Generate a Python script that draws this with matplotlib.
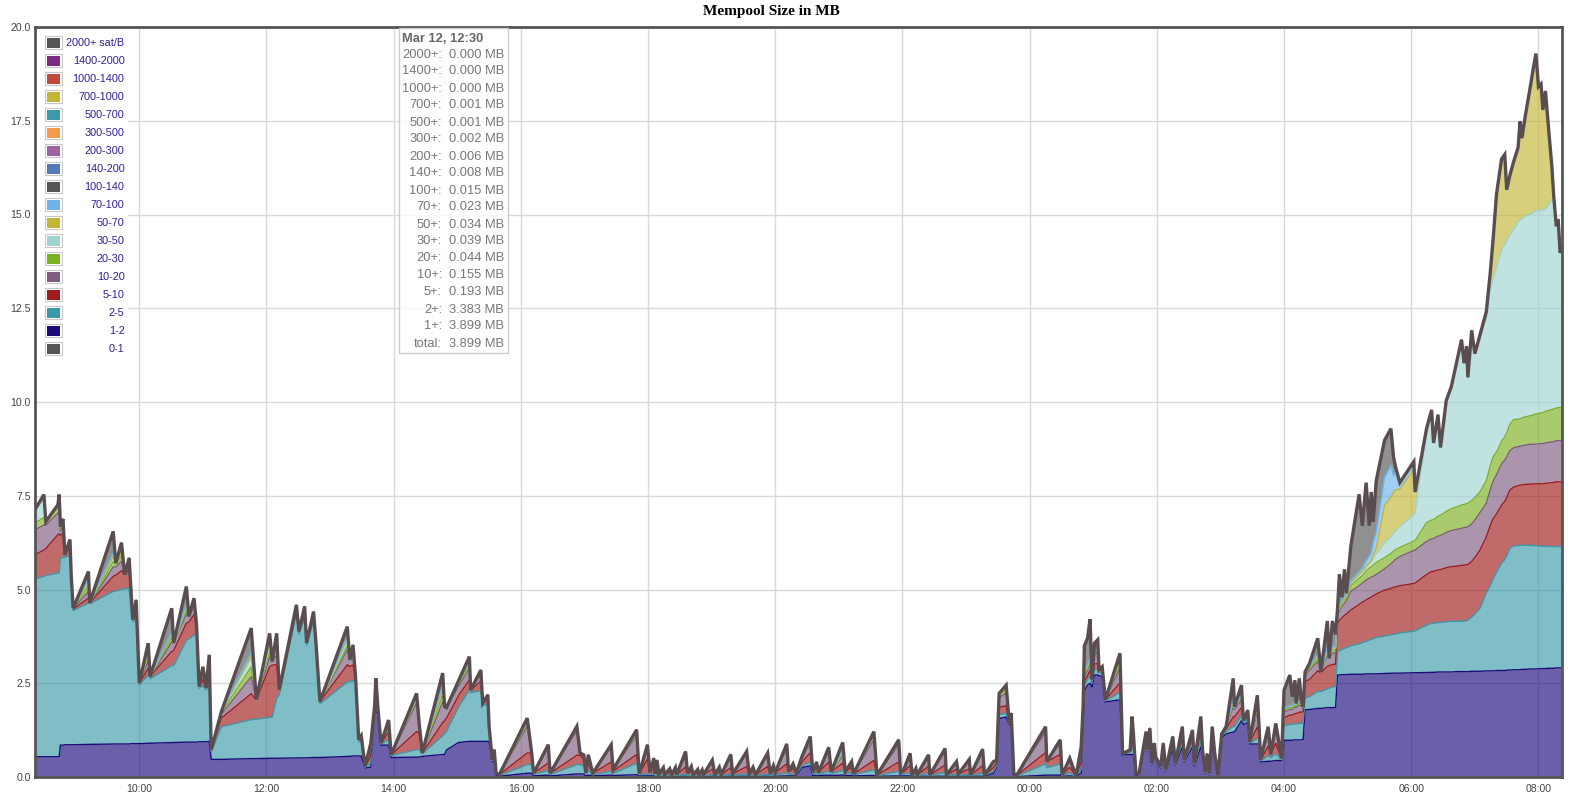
import numpy as np
import matplotlib
matplotlib.use("Agg")
import matplotlib.pyplot as plt
from matplotlib.patches import Rectangle

# ---------------- data (hours since 00:00 of the first day) ----------------
hours = [
8.36, 8.50, 8.53, 8.72, 8.74, 8.76, 8.80, 8.83, 8.91, 8.93,
8.96, 9.20, 9.22, 9.59, 9.63, 9.72, 9.77, 9.84, 9.88, 9.90,
9.95, 9.97, 10.00, 10.14, 10.17, 10.51, 10.54, 10.74, 10.78, 10.86,
10.90, 10.94, 11.00, 11.05, 11.10, 11.13, 11.29, 11.76, 11.84, 12.05,
12.09, 12.16, 12.20, 12.47, 12.51, 12.60, 12.63, 12.74, 12.78, 12.84,
13.27, 13.31, 13.36, 13.40, 13.45, 13.49, 13.55, 13.64, 13.70, 13.72,
13.75, 13.80, 13.92, 13.96, 14.36, 14.40, 14.45, 14.77, 14.80, 14.83,
15.02, 15.19, 15.21, 15.37, 15.40, 15.48, 15.50, 15.55, 15.58, 15.61,
15.66, 16.10, 16.17, 16.20, 16.43, 16.46, 16.88, 16.93, 16.99, 17.02,
17.06, 17.13, 17.42, 17.45, 17.82, 17.86, 17.99, 18.03, 18.09, 18.11,
18.14, 18.17, 18.24, 18.26, 18.34, 18.37, 18.43, 18.45, 18.59, 18.62,
18.68, 18.71, 18.78, 18.80, 18.85, 18.87, 19.01, 19.05, 19.12, 19.15,
19.30, 19.33, 19.55, 19.59, 19.65, 19.69, 19.88, 19.92, 19.97, 20.00,
20.18, 20.21, 20.28, 20.33, 20.42, 20.55, 20.59, 20.65, 20.68, 20.84,
20.88, 21.06, 21.10, 21.20, 21.23, 21.55, 21.60, 21.94, 21.97, 22.02,
22.12, 22.15, 22.21, 22.23, 22.41, 22.43, 22.67, 22.69, 22.85, 22.88,
23.05, 23.07, 23.26, 23.29, 23.43, 23.48, 23.52, 23.63, 23.68, 23.71,
23.75, 23.79, 24.25, 24.27, 24.48, 24.51, 24.63, 24.73, 24.81, 24.84,
24.86, 24.91, 24.95, 24.98, 25.02, 25.07, 25.09, 25.14, 25.19, 25.42,
25.46, 25.58, 25.61, 25.63, 25.67, 25.72, 25.83, 25.85, 25.89, 25.92,
25.96, 25.98, 26.06, 26.10, 26.14, 26.25, 26.29, 26.40, 26.43, 26.56,
26.59, 26.69, 26.72, 26.76, 26.79, 26.83, 26.87, 26.91, 26.96, 27.02,
27.09, 27.20, 27.22, 27.33, 27.36, 27.43, 27.46, 27.58, 27.61, 27.63,
27.75, 27.79, 27.87, 27.96, 28.00, 28.09, 28.13, 28.17, 28.19, 28.24,
28.27, 28.30, 28.33, 28.40, 28.53, 28.58, 28.68, 28.71, 28.76, 28.81,
28.84, 28.87, 28.91, 28.95, 28.98, 29.05, 29.18, 29.23, 29.29, 29.34,
29.37, 29.40, 29.45, 29.58, 29.68, 29.72, 29.75, 29.82, 30.04, 30.06,
30.24, 30.32, 30.35, 30.42, 30.46, 30.55, 30.63, 30.71, 30.79, 30.83,
30.87, 30.89, 30.95, 31.00, 31.08, 31.18, 31.24, 31.29, 31.34, 31.42,
31.47, 31.50, 31.55, 31.61, 31.68, 31.71, 31.74, 31.79, 31.86, 31.92,
31.96, 32.00, 32.04, 32.07, 32.11, 32.16, 32.21, 32.24, 32.28, 32.31,
32.34, 32.37]

total_mb = [
7.13, 7.53, 6.81, 7.26, 7.53, 6.68, 6.88, 5.93, 6.33, 5.35,
4.50, 5.48, 4.64, 6.55, 5.70, 6.25, 5.39, 5.84, 4.68, 4.19,
4.72, 3.83, 2.50, 3.57, 2.68, 4.50, 3.57, 5.08, 4.28, 4.77,
4.06, 2.41, 2.94, 2.37, 3.26, 0.72, 1.74, 3.97, 2.06, 3.83,
3.08, 3.83, 2.32, 4.59, 3.88, 4.55, 3.57, 4.41, 3.52, 2.01,
4.01, 3.12, 3.52, 2.68, 0.99, 1.10, 0.28, 0.90, 1.90, 2.63,
1.88, 0.90, 1.52, 0.59, 2.23, 1.44, 0.64, 2.77, 1.88, 1.85,
2.57, 3.21, 2.32, 2.85, 1.97, 2.19, 1.35, 0.46, 0.73, 0.11,
0.06, 1.57, 0.64, 0.10, 0.86, 0.10, 1.35, 0.64, 0.59, 0.10,
0.59, 0.10, 0.86, 0.20, 1.26, 0.08, 0.86, 0.12, 0.50, 0.08,
0.45, 0.08, 0.25, 0.06, 0.22, 0.06, 0.25, 0.06, 0.68, 0.10,
0.28, 0.06, 0.20, 0.06, 0.19, 0.06, 0.45, 0.06, 0.26, 0.06,
0.60, 0.08, 0.68, 0.08, 0.26, 0.06, 0.64, 0.08, 0.30, 0.12,
0.88, 0.14, 0.35, 0.10, 0.55, 1.08, 0.12, 0.40, 0.12, 0.79,
0.14, 0.92, 0.14, 0.41, 0.08, 1.21, 0.05, 0.99, 0.12, 0.20,
0.63, 0.06, 0.23, 0.06, 0.59, 0.05, 0.76, 0.05, 0.41, 0.08,
0.47, 0.05, 0.74, 0.05, 0.41, 0.45, 2.23, 2.45, 1.43, 1.70,
0.10, 0.03, 1.34, 0.41, 0.99, 0.05, 0.50, 0.03, 0.81, 1.88,
3.50, 3.70, 4.21, 2.59, 3.57, 3.66, 2.86, 2.94, 2.06, 3.30,
0.63, 0.72, 1.61, 1.17, 0.10, 0.10, 1.21, 0.72, 1.30, 0.36,
0.90, 0.54, 0.28, 0.90, 0.19, 1.08, 0.36, 1.34, 0.45, 1.25,
0.36, 1.61, 0.68, 0.13, 0.62, 0.09, 1.34, 0.62, 0.04, 1.15,
1.35, 2.63, 1.87, 2.45, 1.51, 1.78, 0.93, 2.18, 1.25, 0.45,
1.34, 0.60, 1.43, 0.49, 2.32, 2.72, 2.14, 2.58, 1.96, 2.63,
2.05, 1.87, 2.80, 3.03, 3.70, 2.79, 4.16, 3.16, 4.16, 3.80,
4.48, 5.41, 4.79, 5.54, 4.90, 6.16, 7.54, 6.70, 7.85, 6.70,
7.60, 6.80, 7.91, 8.98, 9.29, 8.54, 8.29, 7.85, 8.41, 7.60,
9.29, 9.79, 8.91, 9.66, 8.79, 10.04, 10.41, 11.04, 11.66, 11.04,
11.48, 10.66, 11.91, 11.29, 11.79, 12.41, 13.41, 14.41, 15.54, 16.48,
16.60, 15.66, 16.04, 16.41, 16.79, 17.48, 17.04, 17.60, 18.29, 18.91,
19.29, 18.41, 18.48, 17.79, 18.29, 17.27, 16.29, 15.49, 14.69, 14.87,
13.98, 14.10]

fee_1_2 = [
.54, .54, .54, .54, .54, .85, .85, .86, .86, .86,
.86, .87, .87, .88, .88, .88, .88, .88, .89, .89,
.89, .89, .89, .90, .90, .92, .92, .93, .93, .93,
.93, .94, .94, .94, .95, .47, .47, .49, .49, .50,
.50, .50, .50, .51, .51, .51, .51, .52, .52, .52,
.55, .55, .56, .56, .56, .56, .24, .26, 1.70, 1.75,
1.70, .85, .85, .52, .53, .53, .55, .60, .60, .72,
.92, .95, .95, .95, .95, .95, .95, .42, .42, .05,
.02, .10, .10, .03, .05, .03, .08, .08, .08, .03,
.05, .03, .05, .04, .06, .03, .03, .03, .03, .02,
.02, .02, .02, .02, .02, .02, .02, .02, .02, .02,
.02, .02, .02, .02, .02, .02, .02, .02, .02, .02,
.02, .02, .02, .02, .02, .02, .02, .02, .02, .02,
.03, .03, .03, .03, .25, .30, .04, .04, .04, .05,
.04, .05, .04, .04, .03, .04, .02, .03, .03, .03,
.03, .02, .02, .02, .02, .02, .02, .02, .02, .02,
.02, .02, .02, .02, .10, .25, 1.56, 1.60, 1.40, 1.55,
.05, .01, .05, .05, .05, .02, .03, .01, .10, 1.60,
2.30, 2.45, 2.50, 2.40, 2.72, 2.72, 2.70, 2.68, 2.00, 2.06,
.59, .60, .60, .60, .05, .06, 1.05, .68, 1.10, .32,
.80, .50, .24, .70, .15, .75, .32, .80, .40, .80,
.30, .80, .60, .10, .50, .05, 1.00, .55, .02, 1.05,
1.15, 1.20, 1.20, 1.50, 1.40, 1.45, .88, .88, .88, .40,
.42, .42, .44, .44, .98, .98, .98, .99, .99, .99,
.99, 1.00, 1.79, 1.80, 1.83, 1.83, 1.85, 1.85, 1.85, 1.85,
2.72, 2.72, 2.73, 2.73, 2.73, 2.74, 2.74, 2.74, 2.75, 2.75,
2.75, 2.75, 2.75, 2.76, 2.77, 2.77, 2.77, 2.77, 2.78, 2.78,
2.79, 2.79, 2.79, 2.80, 2.80, 2.80, 2.80, 2.81, 2.81, 2.81,
2.81, 2.81, 2.82, 2.82, 2.82, 2.83, 2.83, 2.83, 2.84, 2.84,
2.84, 2.85, 2.85, 2.86, 2.86, 2.86, 2.87, 2.87, 2.88, 2.88,
2.88, 2.89, 2.89, 2.89, 2.89, 2.90, 2.90, 2.90, 2.91, 2.91,
2.91, 2.91]

fee_2_5 = [
4.74, 4.81, 4.83, 4.90, 4.90, 4.99, 5.00, 5.00, 5.05, 4.40,
3.58, 3.77, 3.75, 4.07, 4.08, 4.12, 4.13, 4.17, 3.35, 3.25,
3.30, 2.90, 1.57, 1.82, 1.72, 2.05, 2.05, 2.71, 2.75, 2.85,
2.90, 1.42, 1.50, 1.38, 1.50, .20, .87, 1.04, 1.05, 1.09,
1.10, 1.60, 1.70, 3.85, 3.30, 3.75, 3.00, 3.65, 2.93, 1.43,
1.99, 2.00, 2.00, 2.00, .38, .40, .02, .10, .05, .05,
.05, .03, .15, .05, .20, .20, .07, .50, .55, .50,
.95, 1.37, 1.30, 1.35, .95, 1.00, .35, .03, .06, .03,
.02, .23, .23, .04, .12, .04, .25, .25, .20, .04,
.12, .03, .10, .06, .30, .03, .05, .04, .05, .03,
.04, .03, .03, .02, .03, .02, .03, .02, .05, .03,
.03, .02, .03, .02, .03, .02, .04, .02, .03, .02,
.05, .03, .06, .03, .03, .02, .06, .03, .04, .04,
.07, .04, .05, .03, .05, .10, .04, .06, .04, .10,
.05, .12, .05, .07, .03, .15, .02, .12, .04, .05,
.08, .02, .03, .02, .08, .02, .10, .02, .05, .03,
.05, .02, .08, .02, .05, .05, .10, .10, .02, .05,
.03, .01, .30, .20, .30, .02, .08, .01, .10, .08,
.15, .15, .20, .10, .15, .15, .08, .10, .03, .20,
.02, .05, .20, .15, .03, .02, .06, .02, .07, .02,
.05, .02, .02, .08, .02, .10, .02, .15, .03, .12,
.03, .20, .05, .02, .06, .02, .10, .04, .01, .05,
.07, .15, .15, .15, .06, .10, .03, .15, .12, .03,
.15, .10, .18, .03, .40, .42, .42, .43, .43, .44,
.44, .44, .31, .35, .45, .45, .50, .52, .55, .56,
.63, .65, .67, .70, .72, .76, .81, .84, .87, .90,
.92, .94, .97, 1.00, 1.02, 1.03, 1.04, 1.07, 1.11, 1.12,
1.26, 1.31, 1.31, 1.32, 1.32, 1.34, 1.35, 1.34, 1.35, 1.35,
1.36, 1.37, 1.45, 1.53, 1.68, 2.08, 2.27, 2.47, 2.62, 2.86,
2.96, 3.05, 3.25, 3.30, 3.31, 3.32, 3.31, 3.31, 3.30, 3.29,
3.29, 3.27, 3.27, 3.26, 3.26, 3.25, 3.25, 3.24, 3.24, 3.24,
3.23, 3.23]

fee_5_10 = [
.65, .70, .72, 1.02, 1.05, .60, .65, .05, .25, .06,
.04, .13, .02, .40, .42, .50, .38, .48, .25, .05,
.25, .04, .04, .18, .06, .38, .40, .46, .45, .55,
.23, .05, .15, .05, .30, .05, .23, .69, .52, 1.35,
1.38, .90, .12, .08, .07, .10, .06, .10, .07, .06,
.45, .40, .42, .12, .05, .10, .02, .20, .05, .08,
.05, .02, .20, .02, .48, .45, .02, .35, .35, .35,
.30, .27, .07, .25, .07, .14, .05, .01, .10, .03,
.02, .31, .31, .03, .20, .03, .25, .25, .20, .03,
.22, .04, .25, .06, .24, .02, .40, .05, .27, .03,
.20, .03, .10, .02, .08, .02, .10, .02, .20, .05,
.10, .02, .07, .02, .07, .02, .15, .02, .10, .02,
.18, .03, .20, .03, .10, .02, .20, .03, .12, .06,
.25, .07, .14, .04, .10, .25, .04, .15, .04, .25,
.05, .20, .05, .15, .02, .25, .01, .25, .05, .06,
.20, .02, .09, .02, .18, .01, .20, .01, .14, .03,
.15, .01, .20, .01, .10, .07, .20, .20, .01, .05,
.02, .01, .30, .16, .25, .01, .15, .01, .20, .05,
.10, .10, .15, .05, .15, .15, .05, .08, .03, .25,
.02, .04, .25, .20, .02, .02, .05, .02, .06, .02,
.03, .02, .02, .06, .02, .10, .02, .15, .02, .13,
.03, .25, .03, .01, .06, .02, .10, .03, .01, .05,
.07, .25, .25, .20, .05, .10, .02, .30, .15, .02,
.25, .08, .28, .02, .20, .25, .25, .27, .27, .30,
.30, .30, .44, .45, .55, .50, .60, .60, .60, .60,
.75, .80, .85, .88, .90, .95, 1.05, 1.08, 1.10, 1.12,
1.13, 1.14, 1.16, 1.22, 1.24, 1.25, 1.26, 1.26, 1.27, 1.27,
1.35, 1.38, 1.38, 1.40, 1.41, 1.44, 1.46, 1.47, 1.48, 1.49,
1.49, 1.49, 1.48, 1.50, 1.55, 1.49, 1.60, 1.60, 1.55, 1.55,
1.55, 1.55, 1.55, 1.57, 1.60, 1.60, 1.61, 1.62, 1.63, 1.64,
1.65, 1.66, 1.66, 1.67, 1.68, 1.69, 1.70, 1.71, 1.72, 1.72,
1.73, 1.73]

fee_10_20 = [
.66, .67, .62, .58, .60, .12, .20, .02, .12, .03,
.02, .18, 0, .25, .22, .25, 0, .16, .12, 0,
.18, 0, 0, .20, 0, .25, .20, .25, .15, .20,
0, 0, .15, 0, .25, 0, .10, .45, 0, .26,
.10, .25, 0, .05, 0, .08, 0, .07, 0, 0,
.41, .17, .35, 0, 0, .04, 0, .20, .05, .10,
.08, 0, .12, 0, .76, .26, 0, .55, .38, .28,
.25, .31, 0, .20, 0, .10, 0, 0, .10, 0,
0, .71, 0, 0, .40, 0, .65, .06, .11, 0,
.20, 0, .40, .04, .50, 0, .28, 0, .15, 0,
.15, 0, .10, 0, .09, 0, .10, 0, .30, 0,
.13, 0, .08, 0, .07, 0, .20, 0, .11, 0,
.28, 0, .32, 0, .11, 0, .28, 0, .12, 0,
.40, 0, .13, 0, .10, .25, 0, .15, 0, .30,
0, .20, 0, .15, 0, .55, 0, .45, 0, .06,
.25, 0, .09, 0, .26, 0, .35, 0, .16, 0,
.20, 0, .35, 0, .12, .06, .25, .35, 0, .05,
0, 0, .55, 0, .30, 0, .20, 0, .25, .05,
.15, .15, .20, .04, .25, .30, .03, .08, 0, .40,
0, .03, .35, .22, 0, 0, .05, 0, .07, 0,
.02, 0, 0, .06, 0, .10, 0, .15, 0, .14,
0, .25, 0, 0, 0, 0, .10, 0, 0, 0,
.06, .25, .20, .20, 0, .08, 0, .40, .10, 0,
.30, 0, .30, 0, .15, .15, .15, .17, .17, .18,
.18, .13, .16, .25, .25, .01, .30, .19, .30, .30,
.19, .25, .30, .32, .35, .50, .50, .51, .53, .53,
.53, .52, .52, .57, .65, .70, .73, .78, .88, .88,
.88, .87, .88, .90, .91, .94, .96, .98, .99, 1.00,
1.00, 1.00, 1.00, 1.00, 1.00, .90, .95, 1.00, 1.05, 1.10,
1.10, 1.08, 1.05, 1.05, 1.04, 1.04, 1.04, 1.05, 1.06, 1.06,
1.06, 1.06, 1.07, 1.07, 1.08, 1.08, 1.09, 1.09, 1.10, 1.10,
1.10, 1.10]

fee_20_30 = [
.18, .20, .10, .13, .15, .06, .10, 0, .05, 0,
0, .15, 0, .15, .08, .15, 0, .08, .07, 0,
.10, 0, 0, .12, 0, .12, 0, .10, 0, .08,
0, 0, .08, 0, .10, 0, .04, .27, 0, .15,
0, .15, 0, .04, 0, .05, 0, .04, 0, 0,
.10, 0, .10, 0, 0, 0, 0, .05, .05, .05,
0, 0, .08, 0, .09, 0, 0, .20, 0, 0,
.07, .10, 0, .05, 0, 0, 0, 0, .03, 0,
0, .09, 0, 0, .05, 0, .06, 0, 0, 0,
0, 0, .04, 0, .06, 0, .05, 0, 0, 0,
.02, 0, 0, 0, 0, 0, 0, 0, .06, 0,
0, 0, 0, 0, 0, 0, .02, 0, 0, 0,
.04, 0, .05, 0, 0, 0, .05, 0, 0, 0,
.08, 0, 0, 0, .03, .06, 0, 0, 0, .05,
0, .05, 0, 0, 0, .10, 0, .08, 0, 0,
.04, 0, 0, 0, .03, 0, .05, 0, .02, 0,
.03, 0, .05, 0, .02, .01, .08, .10, 0, 0,
0, 0, .08, 0, .05, 0, .02, 0, .08, .03,
.05, .05, .05, 0, .05, .05, 0, 0, 0, .15,
0, 0, .08, 0, 0, 0, 0, 0, 0, 0,
0, 0, 0, 0, 0, .03, 0, .05, 0, .03,
0, .06, 0, 0, 0, 0, .04, 0, 0, 0,
0, .10, .05, .07, 0, .05, 0, .12, 0, 0,
.08, 0, .08, 0, .05, .05, .05, .05, .05, .05,
.05, 0, .05, .07, .08, 0, .08, 0, .08, .08,
.05, .06, .07, .08, .08, .15, .20, .20, .25, .27,
.28, .30, .32, .30, .28, .27, .26, .24, .25, .25,
.50, .50, .50, .53, .54, .56, .58, .60, .62, .62,
.63, .63, .62, .60, .55, .60, .63, .65, .60, .60,
.62, .65, .70, .75, .73, .73, .74, .75, .76, .78,
.80, .81, .82, .83, .84, .85, .86, .87, .87, .88,
.88, .88]

fee_30_50 = [
.36, .55, 0, .09, .29, .06, .08, 0, 0, 0,
0, .13, 0, .13, .02, .10, 0, .07, 0, 0,
0, 0, 0, .10, 0, .10, 0, .10, 0, .08,
0, 0, .07, 0, .08, 0, .03, .22, 0, .15,
0, .15, 0, .03, 0, .04, 0, .03, 0, 0,
.10, 0, .09, 0, 0, 0, 0, .05, 0, .05,
0, 0, .07, 0, .06, 0, 0, .15, 0, 0,
.05, .08, 0, .05, 0, 0, 0, 0, 0, 0,
0, .06, 0, 0, .04, 0, .04, 0, 0, 0,
0, 0, .02, 0, .05, 0, .05, 0, 0, 0,
.02, 0, 0, 0, 0, 0, 0, 0, .05, 0,
0, 0, 0, 0, 0, 0, .02, 0, 0, 0,
.03, 0, .03, 0, 0, 0, .03, 0, 0, 0,
.05, 0, 0, 0, .02, .05, 0, 0, 0, .04,
0, .05, 0, 0, 0, .06, 0, .06, 0, 0,
.03, 0, 0, 0, .02, 0, .04, 0, .02, 0,
.02, 0, .04, 0, .02, .01, .04, .06, 0, 0,
0, 0, .06, 0, .04, 0, .02, 0, .08, .03,
.05, .05, .05, 0, .05, .05, 0, 0, 0, .10,
0, 0, .06, 0, 0, 0, 0, 0, 0, 0,
0, 0, 0, 0, 0, 0, 0, .04, 0, .03,
0, .05, 0, 0, 0, 0, 0, 0, 0, 0,
0, .08, 0, .06, 0, 0, 0, .08, 0, 0,
.06, 0, .06, 0, .04, .05, .05, .05, .05, .05,
.05, 0, .03, .06, .06, 0, .06, 0, .06, .06,
.04, .05, .05, .06, .06, .08, .10, .11, .12, .13,
.14, .20, .23, .40, .45, .48, .50, .55, .71, .75,
2.41, 2.85, 2.05, 2.65, 1.81, 2.91, 3.21, 3.79, 4.36, 3.77,
4.14, 3.36, 4.49, 3.84, 4.14, 4.31, 4.70, 4.75, 4.94, 5.10,
5.13, 5.12, 5.05, 5.07, 5.26, 5.30, 5.33, 5.35, 5.37, 5.40,
5.42, 5.42, 5.41, 5.40, 5.40, 5.48, 5.60, 5.64, 4.85, 5.02,
4.13, 4.25]

fee_50_70 = [
0, 0, 0, 0, 0, 0, 0, 0, 0, 0,
0, 0, 0, 0, 0, 0, 0, 0, 0, 0,
0, 0, 0, 0, 0, 0, 0, 0, 0, 0,
0, 0, 0, 0, 0, 0, 0, .07, 0, .10,
0, .10, 0, 0, 0, 0, 0, 0, 0, 0,
.10, 0, 0, 0, 0, 0, 0, 0, 0, 0,
0, 0, 0, 0, 0, 0, 0, 0, 0, 0,
0, 0, 0, 0, 0, 0, 0, 0, 0, 0,
0, 0, 0, 0, 0, 0, 0, 0, 0, 0,
0, 0, 0, 0, 0, 0, 0, 0, 0, 0,
0, 0, 0, 0, 0, 0, 0, 0, 0, 0,
0, 0, 0, 0, 0, 0, 0, 0, 0, 0,
0, 0, 0, 0, 0, 0, 0, 0, 0, 0,
0, 0, 0, 0, 0, 0, 0, 0, 0, 0,
0, 0, 0, 0, 0, 0, 0, 0, 0, 0,
0, 0, 0, 0, 0, 0, 0, 0, 0, 0,
0, 0, 0, 0, 0, 0, 0, 0, 0, 0,
0, 0, 0, 0, 0, 0, 0, 0, 0, 0,
0, 0, 0, 0, 0, 0, 0, 0, 0, 0,
0, 0, 0, 0, 0, 0, 0, 0, 0, 0,
0, 0, 0, 0, 0, 0, 0, 0, 0, 0,
0, 0, 0, 0, 0, 0, 0, 0, 0, 0,
0, 0, 0, 0, 0, 0, 0, 0, 0, 0,
0, 0, 0, 0, 0, 0, 0, 0, 0, 0,
0, 0, 0, 0, 0, 0, 0, 0, 0, 0,
0, 0, 0, 0, 0, 0, 0, 0, 0, 0,
0, .05, .15, 1.00, 1.05, 1.08, 1.10, 1.00, 1.20, .55,
.08, .07, 0, .06, 0, .05, .05, .05, .05, 0,
.05, 0, .05, 0, .05, .20, .43, 1.11, 1.94, 2.43,
2.40, 1.36, 1.59, 1.81, 1.99, 2.63, 2.14, 2.65, 3.29, 3.86,
4.19, 3.30, 3.36, 2.67, 3.14, 2.02, .89, .04, 0, 0,
0, 0]

fee_70_100 = [
0, 0, 0, 0, 0, 0, 0, 0, 0, 0,
0, .05, 0, .10, 0, .10, 0, 0, 0, 0,
0, 0, 0, .05, 0, .06, 0, .05, 0, 0,
0, 0, 0, 0, 0, 0, 0, .10, 0, .08,
0, .08, 0, .03, 0, .02, 0, 0, 0, 0,
.05, 0, 0, 0, 0, 0, 0, 0, 0, 0,
0, 0, 0, 0, 0, 0, 0, .10, 0, 0,
0, 0, 0, 0, 0, 0, 0, 0, 0, 0,
0, 0, 0, 0, 0, 0, 0, 0, 0, 0,
0, 0, 0, 0, 0, 0, 0, 0, 0, 0,
0, 0, 0, 0, 0, 0, 0, 0, 0, 0,
0, 0, 0, 0, 0, 0, 0, 0, 0, 0,
0, 0, 0, 0, 0, 0, 0, 0, 0, 0,
0, 0, 0, 0, 0, 0, 0, 0, 0, 0,
0, .03, 0, 0, 0, 0, 0, 0, 0, 0,
0, 0, 0, 0, 0, 0, 0, 0, 0, 0,
0, 0, 0, 0, 0, 0, 0, 0, 0, 0,
0, 0, 0, 0, 0, 0, 0, 0, 0, .04,
.05, .05, .05, 0, 0, 0, 0, 0, 0, .06,
0, 0, 0, 0, 0, 0, 0, 0, 0, 0,
0, 0, 0, 0, 0, 0, 0, 0, 0, 0,
0, 0, 0, 0, 0, 0, 0, 0, 0, 0,
0, .05, 0, 0, 0, 0, 0, .05, 0, 0,
0, 0, 0, 0, 0, 0, 0, 0, 0, 0,
0, 0, 0, 0, .04, 0, .04, 0, .04, .04,
.04, .05, .05, .05, .05, .06, .08, .10, .15, .20,
.25, .35, .45, .75, .85, .45, .45, .18, .19, 0,
0, 0, 0, 0, 0, 0, 0, 0, 0, 0,
0, 0, 0, 0, 0, 0, 0, 0, 0, 0,
0, 0, 0, 0, 0, 0, 0, 0, 0, 0,
0, 0, 0, 0, 0, 0, 0, 0, 0, 0,
0, 0]

legend_labels = ["2000+ sat/B", "1400-2000", "1000-1400", "700-1000", "500-700",
                 "300-500", "200-300", "140-200", "100-140", "70-100", "50-70",
                 "30-50", "20-30", "10-20", "5-10", "2-5", "1-2", "0-1"]
legend_colors = ["#555555", "#7b2a82", "#c4483c", "#c3b636", "#3a9aaa",
                 "#f5994a", "#9e62a0", "#5479b8", "#555555", "#6cb4ea", "#c3b636",
                 "#9fd3d2", "#7bb020", "#7e5c80", "#a11b1b", "#3a9aaa", "#1b0a7a", "#555555"]

tip_title = "Mar 12, 12:30"
tip_labels = ["2000+:", "1400+:", "1000+:", "700+:", "500+:", "300+:", "200+:", "140+:",
              "100+:", "70+:", "50+:", "30+:", "20+:", "10+:", "5+:", "2+:", "1+:", "total:"]
tip_values = ["0.000 MB", "0.000 MB", "0.000 MB", "0.001 MB", "0.001 MB", "0.002 MB",
              "0.006 MB", "0.008 MB", "0.015 MB", "0.023 MB", "0.034 MB", "0.039 MB",
              "0.044 MB", "0.155 MB", "0.193 MB", "3.383 MB", "3.899 MB", "3.899 MB"]

x_ticks = [10, 12, 14, 16, 18, 20, 22, 24, 26, 28, 30, 32]
x_tick_labels = ["10:00", "12:00", "14:00", "16:00", "18:00", "20:00", "22:00",
                 "00:00", "02:00", "04:00", "06:00", "08:00"]
y_ticks = [0, 2.5, 5, 7.5, 10, 12.5, 15, 17.5, 20]

series = [fee_1_2, fee_2_5, fee_5_10, fee_10_20, fee_20_30, fee_30_50, fee_50_70, fee_70_100]
series_colors = ["#1b0a7a", "#3a9aaa", "#a11b1b", "#7e5c80", "#7bb020", "#9fd3d2", "#c3b636", "#6cb4ea"]

n = len(hours)
lens = [len(total_mb)] + [len(s) for s in series]
assert all(l == n for l in lens), (n, lens)

# ---------------- figure ----------------
W, H = 1584, 797
fig = plt.figure(figsize=(W / 100, H / 100), dpi=100)
L, R, T, B = 35, 1562, 27, 777
ax = fig.add_axes([L / W, 1 - B / H, (R - L) / W, (B - T) / H])

x = np.array(hours)
tot = np.array(total_mb)
cum = np.zeros(n)
for vals, col in zip(series, series_colors):
    top = cum + np.array(vals)
    ax.fill_between(x, cum, top, color=col, alpha=0.65, lw=0, zorder=2)
    ax.plot(x, top, color=col, lw=1.0, zorder=3)
    cum = top
ax.fill_between(x, cum, np.maximum(tot, cum), color="#555555", alpha=0.65, lw=0, zorder=2)
ax.plot(x, tot, color="#5a4d50", lw=2.4, zorder=4, solid_joinstyle="miter")

ax.set_xlim(8.36, 32.37)
ax.set_ylim(0, 20)
ax.set_xticks(x_ticks)
ax.set_xticklabels(x_tick_labels)
ax.set_yticks(y_ticks)
ax.set_yticklabels([f"{v:.1f}" for v in y_ticks])
ax.tick_params(axis="y", length=0, labelsize=7.6, colors="#444444", pad=3)
ax.tick_params(axis="x", length=0, labelsize=7.6, colors="#444444", pad=5)
for lab in ax.get_xticklabels() + ax.get_yticklabels():
    lab.set_fontfamily("Liberation Sans")
ax.grid(True, color="#d9d9d9", lw=1.0)
ax.set_axisbelow(True)
for s in ax.spines.values():
    s.set_color("#555555")
    s.set_linewidth(2.0)
    s.set_zorder(6)

fig.text(771 / W, 1 - 12 / H, "Mempool Size in MB", ha="center", va="center",
         fontsize=11, fontweight="bold", family="Liberation Serif", color="black")


def fx(px):
    return px / W


def fy(py):
    return 1 - py / H


# legend (drawn in figure pixel coordinates)
fig.add_artist(Rectangle((fx(37), fy(356)), (128 - 37) / W, (356 - 29) / H,
                         transform=fig.transFigure, facecolor="white", edgecolor="none", zorder=5))
for i, (lab, col) in enumerate(zip(legend_labels, legend_colors)):
    yc = 42.7 + 18 * i
    fig.add_artist(Rectangle((fx(44.5), fy(yc + 6.5)), 17 / W, 13 / H, transform=fig.transFigure,
                             facecolor="white", edgecolor="#c8c8c8", lw=0.8, zorder=6))
    fig.add_artist(Rectangle((fx(46.5), fy(yc + 5)), 13.5 / W, 10 / H, transform=fig.transFigure,
                             facecolor=col, edgecolor="none", zorder=7))
    fig.text(fx(124.5), fy(yc), lab, ha="right", va="center", fontsize=7.8,
             family="Liberation Sans", color="#2e1e9a", zorder=7)

# tooltip box
fig.add_artist(Rectangle((fx(399), fy(353)), (508 - 399) / W, (353 - 28) / H,
                         transform=fig.transFigure, facecolor=(1, 1, 1, 0.8),
                         edgecolor="#cccccc", lw=1.0, zorder=5))
fig.text(fx(402.5), fy(38.5), tip_title, ha="left", va="center", fontsize=9.3,
         fontweight="bold", family="Liberation Sans", color="#666666", zorder=7)
for i, (lab, val) in enumerate(zip(tip_labels, tip_values)):
    yc = 54.5 + 17 * i
    fig.text(fx(442), fy(yc), lab, ha="right", va="center", fontsize=9.3,
             family="Liberation Sans", color="#777777", zorder=7)
    fig.text(fx(449), fy(yc), val, ha="left", va="center", fontsize=9.3,
             family="Liberation Sans", color="#777777", zorder=7)

fig.savefig("out.png", dpi=100, facecolor="white")
